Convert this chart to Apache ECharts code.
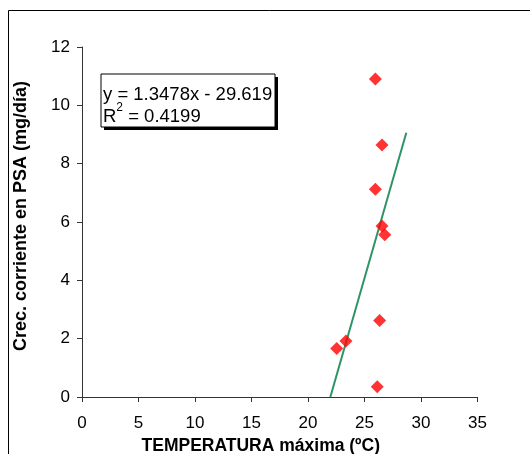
<!DOCTYPE html>
<html>
<head>
<meta charset="utf-8">
<script src="https://cdn.jsdelivr.net/npm/echarts@6/dist/echarts.min.js"></script>
<style>
  html, body { margin: 0; padding: 0; background: #fff; }
  #chart { width: 530px; height: 454px; }
</style>
</head>
<body>
<div id="chart"></div>
<script>
// Maximum temperature (ºC) and current growth in PSA (mg/día)
const tempMax = [25.96, 26.55, 25.96, 26.55, 26.79, 26.34, 23.36, 22.54, 26.13];
const growth  = [10.90, 8.64, 7.12, 5.86, 5.56, 2.62, 1.92, 1.66, 0.35];

// Linear trend line
const slope = 1.3478;
const intercept = -29.619;
const rSquared = 0.4199;
const trendXEnd = 28.7;

const xTicks = [0, 5, 10, 15, 20, 25, 30, 35];
const yTicks = [0, 2, 4, 6, 8, 10, 12];

const FONT = "'Liberation Sans', Arial, sans-serif";

const points = tempMax.map((x, i) => [x, growth[i]]);
const trendXStart = -intercept / slope;
const trend = [trendXStart, trendXEnd].map(x => [x, slope * x + intercept]);

const chart = echarts.init(document.getElementById('chart'), null, { renderer: 'canvas' });

chart.setOption({
  animation: false,
  backgroundColor: '#ffffff',
  grid: { left: 82, top: 47, right: 52.5, bottom: 57, containLabel: false, outerBoundsMode: 'none' },
  xAxis: {
    type: 'value',
    min: xTicks[0], max: xTicks[xTicks.length - 1], interval: 5,
    name: 'TEMPERATURA máxima (ºC)',
    nameLocation: 'middle', nameGap: 31,
    nameTextStyle: { fontFamily: FONT, fontSize: 17.5, fontWeight: 'bold', color: '#000', padding: [0, 38, 0, 0] },
    axisLine: { show: true, onZero: false, lineStyle: { color: '#333', width: 1 } },
    axisTick: { show: true, inside: false, length: 5, lineStyle: { color: '#333' } },
    axisLabel: { fontFamily: FONT, fontSize: 17, color: '#000', margin: 18 },
    splitLine: { show: false }
  },
  yAxis: {
    type: 'value',
    min: yTicks[0], max: yTicks[yTicks.length - 1], interval: 2,
    name: 'Crec. corriente en PSA (mg/día)',
    nameLocation: 'middle', nameGap: 52, nameRotate: 90,
    nameTextStyle: { fontFamily: FONT, fontSize: 18, fontWeight: 'bold', color: '#000', padding: [0, 0, 0, 12] },
    axisLine: { show: true, onZero: false, lineStyle: { color: '#333', width: 1 } },
    axisTick: { show: true, inside: false, length: 5, lineStyle: { color: '#333' } },
    axisLabel: { fontFamily: FONT, fontSize: 17, color: '#000', margin: 12 },
    splitLine: { show: false }
  },
  series: [
    {
      type: 'line',
      data: trend,
      symbol: 'none',
      lineStyle: { color: '#2e9465', width: 2 },
      z: 2
    },
    {
      type: 'scatter',
      data: points,
      symbol: 'diamond',
      symbolSize: [13, 13],
      itemStyle: { color: '#ff0000' },
      z: 3
    }
  ],
  graphic: [
    {
      type: 'rect',
      shape: { x: 8.5, y: 10.5, width: 700, height: 700 },
      style: { fill: 'none', stroke: '#000', lineWidth: 1 },
      silent: true
    },
    {
      type: 'rect',
      shape: { x: 104, y: 77, width: 174, height: 53 },
      style: { fill: '#000' },
      silent: true
    },
    {
      type: 'rect',
      shape: { x: 101, y: 74, width: 174, height: 53 },
      style: { fill: '#fff', stroke: '#000', lineWidth: 1 },
      silent: true
    },
    {
      type: 'text',
      left: 103, top: 85,
      style: {
        text: 'y = ' + slope + 'x - ' + Math.abs(intercept),
        font: '18.5px ' + FONT,
        fill: '#000'
      },
      silent: true
    },
    {
      type: 'text',
      left: 103, top: 102,
      style: {
        text: '{a|R}{s|2}{a| = ' + rSquared + '}',
        rich: {
          a: { fontFamily: FONT, fontSize: 18.5, color: '#000', lineHeight: 24, verticalAlign: 'bottom' },
          s: { fontFamily: FONT, fontSize: 12, color: '#000', lineHeight: 24, verticalAlign: 'top', padding: [0, 0, 9, 0] }
        }
      },
      silent: true
    }
  ]
});
</script>
</body>
</html>
